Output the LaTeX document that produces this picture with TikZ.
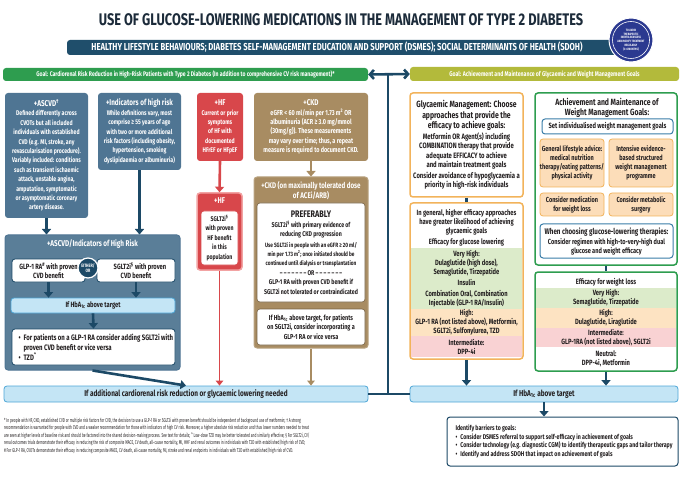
\documentclass[tikz,border=0pt]{standalone}
\usepackage{graphicx}
\usepackage{fontspec}
\setmainfont{Fira Sans}[FakeStretch=0.76]
\usetikzlibrary{arrows.meta}

\definecolor{ink}{HTML}{1C2B3A}
\definecolor{dark}{HTML}{231F20}
\definecolor{banner}{HTML}{1F4E6B}
\definecolor{navy}{HTML}{1C4966}
\definecolor{goalgreen}{HTML}{2E9D4F}
\definecolor{goalolive}{HTML}{B3BA3B}
\definecolor{steel}{HTML}{4F7593}
\definecolor{grpfill}{HTML}{5A7E98}
\definecolor{redbox}{HTML}{D8474B}
\definecolor{redpale}{HTML}{F2A3A3}
\definecolor{tan}{HTML}{A88C62}
\definecolor{lblue}{HTML}{C4E5F5}
\definecolor{lblueline}{HTML}{4DA6D6}
\definecolor{orline}{HTML}{F2B35B}
\definecolor{orfill}{HTML}{FCDDB9}
\definecolor{gband}{HTML}{DCEBCA}
\definecolor{oband}{HTML}{FDE3C2}
\definecolor{pband}{HTML}{F9D2D3}
\definecolor{ringblue}{HTML}{2B3990}
\definecolor{boxblue}{HTML}{3A7DA8}

\newcommand{\boxtxt}{\fontsize{6.8}{9.4}\selectfont\bfseries}
\newcommand{\headtxt}{\fontsize{8.4}{10}\selectfont\bfseries}
\newcommand{\midtxt}{\fontsize{7.6}{9}\selectfont\bfseries}
\newcommand{\bigtxt}{\fontsize{9}{10}\selectfont\bfseries}
\newcommand{\tinytxt}{\fontsize{6.2}{7.6}\selectfont\bfseries}
\newcommand{\HbA}{HbA\textsubscript{1c}}

\tikzset{
  card/.style={rounded corners=3pt, align=center, inner sep=0pt, font=\boxtxt},
  darkcard/.style={card, text=white},
  whitecard/.style={card, fill=white, draw=navy, line width=0.8pt, text=dark, font=\midtxt},
  bluebar/.style={card, fill=lblue, draw=lblueline, line width=0.8pt, text=dark, font=\midtxt},
  orcard/.style={card, fill=orfill, draw=orline, line width=0.8pt, text=dark, font=\fontsize{7.3}{8.8}\selectfont\bfseries},
  band/.style={align=center, inner sep=0pt, text=dark, font=\midtxt},
  arr/.style={navy, line width=2.6pt, -{Triangle[width=9pt,length=5.5pt]}},
  thinarr/.style={line width=1.8pt, -{Triangle[width=7.5pt,length=5pt]}},
}

\begin{document}
\begin{tikzpicture}[x=1pt,y=-1pt]
\useasboundingbox (0,0) rectangle (690,478);

% title, banner and reminder
\node[font=\fontsize{16.8}{20}\selectfont\bfseries, text=ink] (title) at (341,20) {USE OF GLUCOSE-LOWERING MEDICATIONS IN THE MANAGEMENT OF TYPE 2 DIABETES};
\node[card, fill=banner, minimum width=573, minimum height=15] (banner) at (353.5,47.5) {};
\node[text=white, font=\fontsize{10.1}{11}\selectfont\bfseries] (bannertext) at (337,47.5) {HEALTHY LIFESTYLE BEHAVIOURS; DIABETES SELF-MANAGEMENT EDUCATION AND SUPPORT (DSMES); SOCIAL DETERMINANTS OF HEALTH (SDOH)};
\node[circle, fill=ringblue, draw=white, line width=1pt, minimum size=44, inner sep=0pt] (inertia) at (631,40) {};
\draw[white, line width=0.6pt] (inertia.center) circle [radius=18.5];
\node[align=center, text=white, font=\fontsize{3.2}{3.9}\selectfont\bfseries] (inertiatext) at (inertia.center) {TO AVOID\\THERAPEUTIC\\INERTIA REASSESS\\AND MODIFY TREATMENT\\REGULARLY\\(3--6 MONTHS)};

% goal bars
\node[card, fill=goalgreen, text=white, minimum width=365, minimum height=13, font=\fontsize{6.7}{9}\selectfont\bfseries] (goalcr) at (185.5,74.5) {Goal: Cardiorenal Risk Reduction in High-Risk Patients with Type 2 Diabetes (In addition to comprehensive CV risk management)*};
\node[card, fill=goalolive, text=white, minimum width=269, minimum height=14, font=\fontsize{6.8}{9}\selectfont\bfseries] (goalgw) at (544.5,74) {Goal: Achievement and Maintenance of Glycaemic and Weight Management Goals};
\draw[navy, line width=2.6pt, {Straight Barb[length=4pt,width=9pt]}-{Straight Barb[length=4pt,width=9pt]}] (goalcr.east) -- (goalgw.west);
\coordinate (split) at (388,74.5);

% cardiorenal column
\node[darkcard, fill=steel, minimum width=83, minimum height=125] (ascvd) at (46.5,155.5) {{\headtxt +ASCVD\textsuperscript{†}}\\Defined differently across\\CVOTs but all included\\individuals with established\\CVD (e.g. MI, stroke, any\\revascularisation procedure).\\Variably included: conditions\\such as transient ischaemic\\attack, unstable angina,\\amputation, symptomatic\\or asymptomatic coronary\\artery disease.};
\node[darkcard, fill=steel, minimum width=83, minimum height=77] (indic) at (139.5,131.5) {{\headtxt +Indicators of high risk}\\While definitions vary, most\\comprise ≥ 55 years of age\\with two or more additional\\risk factors (including obesity,\\hypertension, smoking\\dyslipidaemia or albuminuria)};
\node[darkcard, fill=redbox, minimum width=46, minimum height=68] (hf) at (220,127) {{\headtxt +HF}\\Current or prior\\symptoms\\of HF with\\documented\\HFrEF or HFpEF};
\node[darkcard, fill=tan, minimum width=114, minimum height=68, font=\fontsize{7.2}{9.4}\selectfont\bfseries] (ckd) at (311,127) {{\headtxt +CKD}\\eGFR < 60 ml/min per 1.73 m\textsuperscript{2} OR\\albuminuria (ACR ≥ 3.0 mg/mmol\\(30mg/g)). These measurements\\may vary over time; thus, a repeat\\measure is required to document CKD.};

\node[card, fill=grpfill, draw=steel, line width=1pt, minimum width=175, minimum height=135] (grp) at (92.5,302.5) {};
\node[text=white, font=\headtxt] (grphead) at (92.5,244) {+ASCVD/Indicators of High Risk};
\node[whitecard, minimum width=73, minimum height=23] (glp) at (48.5,270.5) {GLP-1 RA\textsuperscript{\#} with proven\hspace{6pt}\\CVD benefit\hspace{8pt}};
\node[whitecard, minimum width=78, minimum height=23] (sglt) at (136,270.5) {\hspace{8pt}SGLT2i\textsuperscript{§} with proven\\CVD benefit};
\node[circle, fill=navy, draw=white, line width=1.2pt, minimum size=20, inner sep=0pt, align=center, text=white, font=\fontsize{4.8}{5.6}\selectfont\bfseries] (either) at (88,268) {EITHER/\\OR};
\node[bluebar, minimum width=164, minimum height=15] (hbaleft) at (93,305.5) {If \HbA\ above target};
\node[whitecard, minimum width=163, minimum height=36] (addon) at (93.5,347) {};
\node[align=left, text=dark, font=\fontsize{7.9}{9.8}\selectfont\bfseries, anchor=west] (addontext) at (15,347) {•\hspace{3pt}For patients on a GLP-1 RA consider adding SGLT2i with\\\hphantom{•}\hspace{3pt}proven CVD benefit or vice versa\\•\hspace{3pt}TZD\textsuperscript{\textasciicircum}};

\node[card, fill=redbox, draw=redpale, line width=1.5pt, minimum width=45, minimum height=77] (hfb) at (219.5,231.5) {};
\node[text=white, font=\headtxt] (hfbhead) at (219.5,201) {+HF};
\node[whitecard, draw=redbox, line width=0.6pt, minimum width=37, minimum height=54, font=\boxtxt] (hfsglt) at (219.5,238) {SGLT2i\textsuperscript{§}\\with proven\\HF benefit\\in this\\population};

\node[card, fill=tan, draw=tan!80!white, line width=1pt, minimum width=114, minimum height=171] (ckdb) at (311,262.5) {};
\node[align=center, text=white, font=\fontsize{8.2}{10.5}\selectfont\bfseries] (ckdbhead) at (311,190.5) {+CKD (on maximally tolerated dose\\of ACEi/ARB)};
\node[whitecard, draw=tan!70!black, line width=0.6pt, minimum width=108, minimum height=99, font=\fontsize{6.9}{9.2}\selectfont\bfseries] (ckdpref) at (311,252.5) {{\fontsize{9.5}{11}\selectfont\bfseries PREFERABLY}\\[1pt]SGLT2i\textsuperscript{§} with primary evidence of\\reducing CKD progression\\[1pt]{\tinytxt Use SGLT2i in people with an eGFR ≥ 20 ml/}\\{\tinytxt min per 1.73 m\textsuperscript{2}; once initiated should be}\\{\tinytxt continued until dialysis or transplantation}\\[1pt]– – – – – – – OR – – – – – – –\\GLP-1 RA with proven CVD benefit if\\SGLT2i not tolerated or contraindicated};
\node[whitecard, draw=tan!70!black, line width=0.6pt, minimum width=108, minimum height=36, font=\fontsize{7.2}{9.6}\selectfont\bfseries] (ckdadd) at (311,327) {If \HbA\ above target, for patients\\on SGLT2i, consider incorporating a\\GLP-1 RA or vice versa};

\node[bluebar, minimum width=364, minimum height=16, font=\fontsize{8.5}{9}\selectfont\bfseries] (more) at (186,394) {If additional cardiorenal risk reduction or glycaemic lowering needed};

% glycaemic and weight column
\node[card, fill=white, draw=orline, line width=1.5pt, text=dark, font=\fontsize{7.8}{9.2}\selectfont\bfseries, minimum width=113, minimum height=104] (glyc) at (466.5,145) {{\bigtxt Glycaemic Management: Choose}\\{\bigtxt approaches that provide the}\\{\bigtxt efficacy to achieve goals:}\\[2pt]Metformin OR Agent(s) including\\COMBINATION therapy that provide\\adequate EFFICACY to achieve\\and maintain treatment goals\\[2pt]Consider avoidance of hypoglycaemia a\\priority in high-risk individuals};
\node[card, fill=white, draw=orline, line width=1.5pt, minimum width=113, minimum height=156] (glyceff) at (466.5,281) {};
\node[band, minimum width=111, minimum height=61, fill=gband] (gvhigh) at (466.5,278.5) {Very High:\\Dulaglutide (high dose),\\Semaglutide, Tirzepatide\\[2pt]Insulin\\[2pt]Combination Oral, Combination\\Injectable (GLP-1 RA/Insulin)};
\node[band, minimum width=111, minimum height=27, fill=oband] (ghigh) at (466.5,322.5) {High:\\GLP-1 RA (not listed above), Metformin,\\SGLT2i, Sulfonylurea, TZD};
\node[band, minimum width=111, minimum height=21, fill=pband] (gmid) at (466.5,346.5) {Intermediate:\\DPP-4i};
\node[band] (glycefftext) at (466.5,228) {In general, higher efficacy approaches\\have greater likelihood of achieving\\glycaemic goals\\[2pt]Efficacy for glucose lowering};

\node[card, fill=white, draw=goalgreen, line width=1.5pt, minimum width=142, minimum height=172] (wgt) at (606,179) {};
\node[align=center, text=dark, font=\fontsize{9}{10}\selectfont\bfseries] (wgthead) at (607,108) {Achievement and Maintenance of\\Weight Management Goals:};
\node[card, fill=white, draw=boxblue, line width=1pt, text=dark, font=\fontsize{7.6}{9}\selectfont\bfseries, minimum width=131, minimum height=15] (setgoal) at (607.5,126.5) {Set individualised weight management goals};
\node[orcard, minimum width=64, minimum height=48] (lifestyle) at (572,163) {General lifestyle advice:\\medical nutrition\\therapy/eating patterns/\\physical activity};
\node[orcard, minimum width=64, minimum height=48] (programme) at (641,163) {Intensive evidence-\\based structured\\weight management\\programme};
\node[orcard, minimum width=64, minimum height=23] (medic) at (572,204.5) {Consider medication\\for weight loss};
\node[orcard, minimum width=64, minimum height=23] (surgery) at (641,204.5) {Consider metabolic\\surgery};
\node[card, fill=white, draw=boxblue, line width=1pt, text=dark, font=\fontsize{7.4}{9}\selectfont\bfseries, minimum width=133, minimum height=34] (choose) at (606.5,241) {{\fontsize{8.2}{10}\selectfont\bfseries When choosing glucose-lowering therapies:}\\[1pt]Consider regimen with high-to-very-high dual\\glucose and weight efficacy};

\node[card, fill=white, draw=goalgreen, line width=1.5pt, minimum width=142, minimum height=99] (wgteff) at (606,321.5) {};
\node[band] (wgtefftext) at (606,282) {Efficacy for weight loss};
\node[band, minimum width=140, minimum height=20, fill=gband] (wvhigh) at (606,298) {Very High:\\Semaglutide, Tirzepatide};
\node[band, minimum width=140, minimum height=20, fill=oband] (whigh) at (606,318) {High:\\Dulaglutide, Liraglutide};
\node[band, minimum width=140, minimum height=19, fill=pband] (wmid) at (606,337.5) {Intermediate:\\GLP-1RA (not listed above), SGLT2i};
\node[band] (wneutral) at (606,358.5) {Neutral:\\DPP-4i, Metformin};

\node[bluebar, minimum width=268, minimum height=16, font=\fontsize{8.5}{9}\selectfont\bfseries] (hbaright) at (544,394) {If \HbA\ above target};
\node[card, fill=white, draw=navy, line width=1pt, minimum width=231, minimum height=49] (barrier) at (562.5,441.5) {};
\node[align=left, text=dark, font=\fontsize{6.9}{8.6}\selectfont\bfseries, anchor=west] (barriertext) at (452,441.5) {Identify barriers to goals:\\•\hspace{3pt}Consider DSMES referral to support self-efficacy in achievement of goals\\•\hspace{3pt}Consider technology (e.g. diagnostic CGM) to identify therapeutic gaps and tailor therapy\\•\hspace{3pt}Identify and address SDOH that impact on achievement of goals};

% connectors
\draw[arr] (ascvd.south) -- (ascvd.south |- grp.north);
\draw[arr] (indic.south) -- (indic.south |- grp.north);
\draw[arr] (glp.south) -- (glp.south |- hbaleft.north);
\draw[arr] (sglt.south) -- (sglt.south |- hbaleft.north);
\draw[arr] (hbaleft.south) -- (addon.north);
\draw[arr] (grp.south) -- (more.north);
\draw[arr, redbox] (hf.south) -- (hfb.north);
\draw[thinarr, redbox] (hfb.south) -- (hfb.south |- more.north);
\draw[arr, tan] (ckd.south) -- (ckdb.north);
\draw[thinarr, tan] (ckdb.south) -- (ckdb.south |- more.north);
\draw[navy, line width=2.6pt] (glyc.south) -- (glyceff.north);
\draw[navy, line width=2.6pt] (wgt.south) -- (wgteff.north);
\draw[arr] (glyceff.south) -- (glyceff.south |- hbaright.north);
\draw[arr] (wgteff.south) -- (wgteff.south |- hbaright.north);
\draw[arr] (hbaright.south) -- (hbaright.south |- barrier.north);
\draw[navy, line width=2.6pt] (split) -- (split |- more.east);
\draw[navy, line width=2.6pt] (more.east) -- (hbaright.west);

% footnotes
\node[anchor=north west, inner sep=0pt, text=dark] (notes) at (4,417) {\scalebox{0.765}[1]{\fontsize{5.6}{7.5}\selectfont\mdseries\begin{tabular}{@{}l@{}}* In people with HF, CKD, established CVD or multiple risk factors for CVD, the decision to use a GLP-1 RA or SGLT2i with proven benefit should be independent of background use of metformin; † A strong\\recommendation is warranted for people with CVD and a weaker recommendation for those with indicators of high CV risk. Moreover, a higher absolute risk reduction and thus lower numbers needed to treat\\are seen at higher levels of baseline risk and should be factored into the shared decision-making process. See text for details; \textasciicircum\ Low-dose TZD may be better tolerated and similarly effective; § For SGLT2i, CV/\\renal outcomes trials demonstrate their efficacy in reducing the risk of composite MACE, CV death, all-cause mortality, MI, HHF and renal outcomes in individuals with T2D with established/high risk of CVD;\\\# For GLP-1 RA, CVOTs demonstrate their efficacy in reducing composite MACE, CV death, all-cause mortality, MI, stroke and renal endpoints in individuals with T2D with established/high risk of CVD.\end{tabular}}};

\end{tikzpicture}
\end{document}
